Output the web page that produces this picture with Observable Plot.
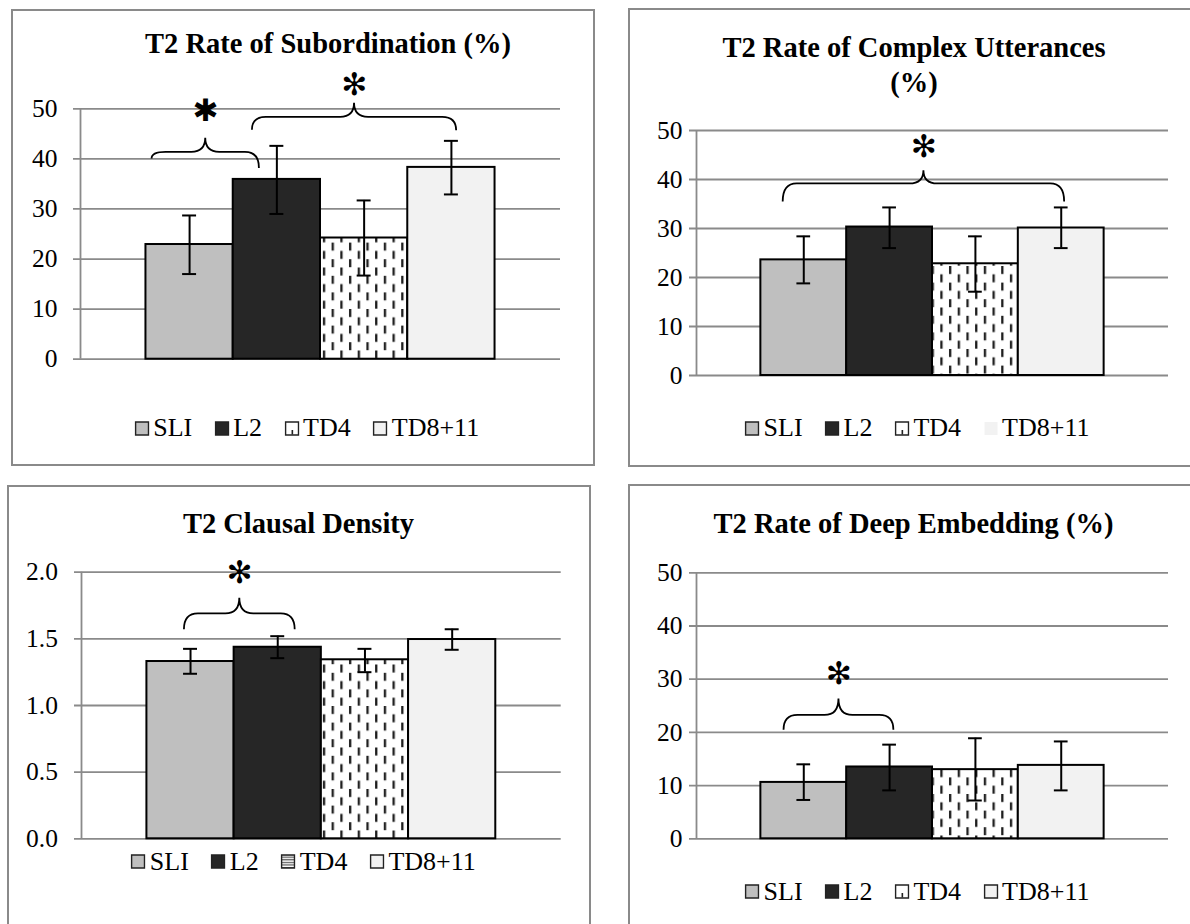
<!DOCTYPE html>
<html>
<head>
<meta charset="utf-8">
<script src="https://cdn.jsdelivr.net/npm/d3@7"></script>
<script src="https://cdn.jsdelivr.net/npm/@observablehq/plot@0.6"></script>
<style>
  html, body { margin: 0; padding: 0; background: #fff; }
  #page { position: relative; width: 1190px; height: 924px; overflow: hidden; background: #fff;
          font-family: "Liberation Serif", "Times New Roman", serif; color: #000; }
  .panel { position: absolute; border: 2px solid #8a8a8a; box-sizing: border-box; pointer-events: none; }
  .title { position: absolute; font-weight: bold; font-size: 28.5px; line-height: 35px; text-align: center;
           white-space: nowrap; transform: translateX(-50%); }
  .legend { position: absolute; display: flex; align-items: center; font-size: 26px; line-height: 30px;
            transform: translate(-50%, -50%); white-space: nowrap; }
  .item { display: flex; align-items: center; margin-right: 22px; }
  .item:last-child { margin-right: 0; }
  .item svg { margin-right: 4px; display: block; }
</style>
</head>
<body>
<svg width="0" height="0" style="position:absolute">
  <defs>
    <pattern id="dashVert" patternUnits="userSpaceOnUse" width="17.4" height="16.6">
      <rect width="17.4" height="16.6" fill="#fff"/>
      <rect x="1" y="0" width="2.3" height="8" fill="#1e1e1e"/>
      <rect x="9.7" y="8.3" width="2.3" height="8" fill="#1e1e1e"/>
    </pattern>
    <pattern id="hLines" patternUnits="userSpaceOnUse" width="4" height="2.6">
      <rect width="4" height="2.6" fill="#fff"/>
      <rect y="0" width="4" height="1.2" fill="#555"/>
    </pattern>
  </defs>
</svg>
<div id="page"></div>
<script>
// ---------- data ----------
const groups = ["SLI", "L2", "TD4", "TD8+11"];

const subordination   = [22.9, 35.9, 24.2, 38.3];
const subordinationLo = [17.0, 29.0, 16.7, 32.9];
const subordinationHi = [28.7, 42.6, 31.7, 43.6];

const complexUtt   = [23.6, 30.3, 22.8, 30.1];
const complexUttLo = [18.8, 26.0, 17.1, 26.0];
const complexUttHi = [28.4, 34.3, 28.4, 34.3];

const clausalDensity   = [1.33, 1.437, 1.343, 1.495];
const clausalDensityLo = [1.238, 1.355, 1.25, 1.418];
const clausalDensityHi = [1.425, 1.52, 1.425, 1.572];

const deepEmbedding   = [10.6, 13.5, 13.0, 13.8];
const deepEmbeddingLo = [7.3, 9.1, 7.2, 9.1];
const deepEmbeddingHi = [14.0, 17.7, 18.9, 18.3];

const percentTicks = [0, 10, 20, 30, 40, 50];
const percentTickLabels = ["0", "10", "20", "30", "40", "50"];
const densityTicks = [0, 0.5, 1.0, 1.5, 2.0];
const densityTickLabels = ["0.0", "0.5", "1.0", "1.5", "2.0"];

const titles = [
  ["T2 Rate of Subordination (%)"],
  ["T2 Rate of Complex Utterances", "(%)"],
  ["T2 Clausal Density"],
  ["T2 Rate of Deep Embedding (%)"]
];

// significance braces: span in group-index units, heights in value units
const braces1 = [
  {from: -0.43, to: 0.80, level: 41.3, endL: 40.0, endR: 38.1, peak: 44.1, star: 49.5, glyph: "✱"},
  {from: 0.72, to: 3.06, level: 48.3, endL: 45.7, endR: 45.6, peak: 51.1, star: 54.7, glyph: "✻"}
];
const braces2 = [
  {from: -0.24, to: 3.04, level: 39.1, endL: 35.4, endR: 35.4, peak: 41.8, star: 46.6, glyph: "✻"}
];
const braces3 = [
  {from: -0.07, to: 1.20, level: 1.688, endL: 1.568, endR: 1.568, peak: 1.805, star: 1.99, glyph: "✻"}
];
const braces4 = [
  {from: -0.23, to: 1.05, level: 23.2, endL: 20.4, endR: 20.4, peak: 26.3, star: 30.9, glyph: "✻"}
];

// ---------- styles ----------
const barFills = ["#bfbfbf", "#262626", "url(#dashVert)", "#f2f2f2"];
const GRID = "#8a8a8a";
const SERIF = "'Liberation Serif', 'Times New Roman', serif";
const STARFONT = "'DejaVu Sans', sans-serif";
const outerPad = 0.75;

function braceMark(list) {
  return (index, scales) => {
    const g = d3.create("svg:g").attr("fill", "none").attr("stroke", "#000").attr("stroke-width", 1.8);
    for (const b of list) {
      const xa = scales.x(b.from), xb = scales.x(b.to), xm = (xa + xb) / 2;
      const yl = scales.y(b.level), ya = scales.y(b.endL), yb = scales.y(b.endR), yp = scales.y(b.peak);
      const r = 14;
      const d = `M${xa},${ya} Q${xa},${yl} ${xa + r},${yl} L${xm - r},${yl} Q${xm},${yl} ${xm},${yp} ` +
                `Q${xm},${yl} ${xm + r},${yl} L${xb - r},${yl} Q${xb},${yl} ${xb},${yb}`;
      g.append("path").attr("d", d);
    }
    return g.node();
  };
}

function chart(cfg) {
  const data = groups.map((g, i) => ({group: g, i, value: cfg.values[i], lo: cfg.lo[i], hi: cfg.hi[i], fill: barFills[i]}));
  const ymax = cfg.ticks[cfg.ticks.length - 1];
  const labelOf = new Map(cfg.ticks.map((t, i) => [t, cfg.labels[i]]));
  const xmin = -0.5 - outerPad, xmax = groups.length - 0.5 + outerPad;
  const svg = Plot.plot({
    width: cfg.w, height: cfg.h,
    marginLeft: cfg.ml, marginRight: cfg.mr, marginTop: cfg.mt, marginBottom: cfg.mb,
    x: {type: "linear", domain: [xmin, xmax], axis: null, label: null},
    y: {domain: [0, ymax], axis: null, label: null},
    color: {type: "identity"},
    style: {fontFamily: SERIF, background: "transparent", overflow: "visible"},
    marks: [
      Plot.ruleY(cfg.ticks, {stroke: GRID, strokeWidth: 1.8, insetLeft: -7}),
      Plot.ruleX([xmin], {y1: 0, y2: ymax, stroke: GRID, strokeWidth: 1.8}),
      Plot.axisY(cfg.ticks, {anchor: "left", tickSize: 0, tickPadding: cfg.pad, fontSize: 25.5, fontFamily: SERIF,
                             label: null, tickFormat: d => labelOf.get(d)}),
      Plot.rectY(data, {x1: d => d.i - 0.5, x2: d => d.i + 0.5, y1: 0, y2: "value", fill: "fill",
                        stroke: "#000", strokeWidth: 2}),
      Plot.ruleX(data, {x: "i", y1: "lo", y2: "hi", stroke: "#000", strokeWidth: 2}),
      Plot.ruleY(data, {y: "hi", x1: d => d.i - 0.08, x2: d => d.i + 0.08, stroke: "#000", strokeWidth: 2}),
      Plot.ruleY(data, {y: "lo", x1: d => d.i - 0.08, x2: d => d.i + 0.08, stroke: "#000", strokeWidth: 2}),
      braceMark(cfg.braces),
      Plot.text(cfg.braces, {x: d => (d.from + d.to) / 2, y: "star", text: "glyph", fontSize: 31,
                             fontFamily: STARFONT, fill: "#000"})
    ]
  });
  // force fonts inline: serif for tick labels, DejaVu for the asterisk glyphs
  const starGlyphs = new Set(cfg.braces.map(b => b.glyph));
  svg.querySelectorAll("text").forEach(t => {
    t.style.fontFamily = starGlyphs.has(t.textContent.trim()) ? STARFONT : SERIF;
  });
  svg.style.position = "absolute";
  svg.style.left = cfg.left + "px";
  svg.style.top = cfg.top + "px";
  svg.style.background = "transparent";
  svg.style.maxWidth = "none";
  svg.style.fontFamily = SERIF;
  return svg;
}

const page = document.getElementById("page");

const panels = [
  {values: subordination, lo: subordinationLo, hi: subordinationHi, ticks: percentTicks, labels: percentTickLabels,
   braces: braces1, left: 0, top: 60, w: 600, h: 320, ml: 80, mr: 40, mt: 48.3, mb: 21.3, pad: 23,
   box: [11, 9, 584, 457], title: [328, 26.2], legend: [306.7, 428], td4Swatch: "dash", lastSwatchBorder: true},
  {values: complexUtt, lo: complexUttLo, hi: complexUttHi, ticks: percentTicks, labels: percentTickLabels,
   braces: braces2, left: 600, top: 100, w: 590, h: 300, ml: 96, mr: 22, mt: 30, mb: 25, pad: 14,
   box: [628, 8, 700, 459], title: [914, 29.6], legend: [917, 428.3], td4Swatch: "dash", lastSwatchBorder: false},
  {values: clausalDensity, lo: clausalDensityLo, hi: clausalDensityHi, ticks: densityTicks, labels: densityTickLabels,
   braces: braces3, left: 0, top: 540, w: 600, h: 310, ml: 81, mr: 39.3, mt: 31.7, mb: 11.7, pad: 23.6,
   box: [7, 485, 584, 600], title: [298.5, 506.2], legend: [303.3, 861.7], td4Swatch: "hlines", lastSwatchBorder: true},
  {values: deepEmbedding, lo: deepEmbeddingLo, hi: deepEmbeddingHi, ticks: percentTicks, labels: percentTickLabels,
   braces: braces4, left: 600, top: 545, w: 590, h: 305, ml: 96, mr: 22, mt: 27.3, mb: 11.7, pad: 14,
   box: [628, 484, 700, 600], title: [913.5, 505.6], legend: [917, 891.7], td4Swatch: "dash", lastSwatchBorder: true}
];

function swatch(i, p) {
  const ns = "http://www.w3.org/2000/svg";
  const s = document.createElementNS(ns, "svg");
  s.setAttribute("width", 15); s.setAttribute("height", 15);
  const r = document.createElementNS(ns, "rect");
  r.setAttribute("x", 1); r.setAttribute("y", 1); r.setAttribute("width", 13); r.setAttribute("height", 13);
  let fill = barFills[i];
  if (i === 2) fill = p.td4Swatch === "hlines" ? "url(#hLines)" : "#fff";
  r.setAttribute("fill", fill);
  const bordered = !(i === 3 && !p.lastSwatchBorder);
  r.setAttribute("stroke", bordered ? "#222" : "none");
  r.setAttribute("stroke-width", 1.5);
  s.appendChild(r);
  if (i === 2 && p.td4Swatch === "dash") {
    const d = document.createElementNS(ns, "rect");
    d.setAttribute("x", 7); d.setAttribute("y", 9); d.setAttribute("width", 1.6); d.setAttribute("height", 4.5);
    d.setAttribute("fill", "#222");
    s.appendChild(d);
  }
  return s;
}

panels.forEach((p, k) => {
  page.appendChild(chart(p));

  const t = document.createElement("div");
  t.className = "title";
  t.style.left = p.title[0] + "px";
  t.style.top = p.title[1] + "px";
  t.innerHTML = titles[k].join("<br>");
  page.appendChild(t);

  const lg = document.createElement("div");
  lg.className = "legend";
  lg.style.left = p.legend[0] + "px";
  lg.style.top = p.legend[1] + "px";
  groups.forEach((g, i) => {
    const it = document.createElement("div");
    it.className = "item";
    it.appendChild(swatch(i, p));
    const sp = document.createElement("span");
    sp.textContent = g;
    it.appendChild(sp);
    lg.appendChild(it);
  });
  page.appendChild(lg);

  const b = document.createElement("div");
  b.className = "panel";
  b.style.left = p.box[0] + "px";
  b.style.top = p.box[1] + "px";
  b.style.width = p.box[2] + "px";
  b.style.height = p.box[3] + "px";
  page.appendChild(b);
});
</script>
</body>
</html>
